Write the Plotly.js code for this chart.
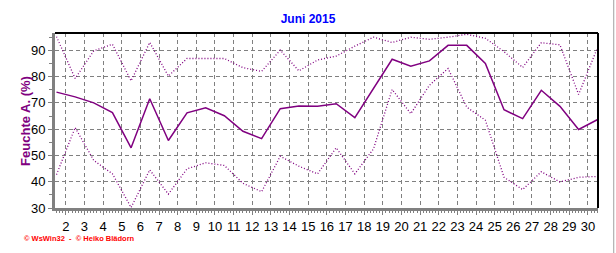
<!DOCTYPE html>
<html>
<head>
<meta charset="utf-8">
<script src="https://cdn.plot.ly/plotly-3.0.1.min.js"></script>
<style>
html,body{margin:0;padding:0;background:#fff;}
#chart{width:616px;height:253px;}
</style>
</head>
<body>
<div id="chart"></div>
<script>
// Days of June 2015
const days = [1,2,3,4,5,6,7,8,9,10,11,12,13,14,15,16,17,18,19,20,21,22,23,24,25,26,27,28,29,30];
// Mean humidity (%)
const meanHum = [74.1,72.3,70.0,66.3,52.9,71.6,55.7,66.2,68.1,65.1,59.2,56.4,67.8,68.8,68.7,69.7,64.4,75.5,86.6,84.0,86.0,91.9,91.9,85.0,67.4,64.0,74.8,68.7,59.9,63.6];
// Max humidity (%)
const maxHum = [95.2,79.3,89.8,92.3,78.4,93.0,80.2,86.9,86.9,86.9,83.4,82.0,90.1,82.2,86.3,87.8,91.6,95.0,93.0,95.0,94.2,95.0,96.1,94.6,89.5,83.5,92.9,92.1,73.2,90.8];
// Min humidity (%)
const minHum = [42.7,60.6,48.1,43.0,30.2,44.5,35.3,44.9,47.2,46.2,39.4,36.2,49.7,45.9,43.0,52.9,43.0,52.5,75.1,65.9,76.7,83.1,68.4,63.4,41.7,37.0,43.8,39.9,41.7,42.0];
const xTicks = [2,3,4,5,6,7,8,9,10,11,12,13,14,15,16,17,18,19,20,21,22,23,24,25,26,27,28,29,30];
const yTicks = [30,40,50,60,70,80,90];

const xs = days.map(d => d + 0.5);
const purple = '#800080';

const traces = [
  {x: xs, y: maxHum, mode: 'lines', line: {color: purple, width: 1.3, dash: '1px,2px'}, hoverinfo: 'skip'},
  {x: xs, y: minHum, mode: 'lines', line: {color: purple, width: 1.3, dash: '1px,2px'}, hoverinfo: 'skip'},
  {x: xs, y: meanHum, mode: 'lines', line: {color: purple, width: 1.5}, hoverinfo: 'skip'}
];

const layout = {
  width: 616, height: 253,
  margin: {l: 55, r: 18, t: 33, b: 45},
  paper_bgcolor: '#ffffff', plot_bgcolor: '#ffffff',
  showlegend: false,
  font: {family: 'Liberation Sans, Arial, sans-serif', size: 13, color: '#000'},
  title: {text: '<b>Juni 2015</b>', x: 0.5, xref: 'container', y: 0.925, yref: 'container', yanchor: 'middle',
          font: {family: 'Liberation Sans, Arial, sans-serif', size: 12, color: '#0000ff'}},
  xaxis: {
    range: [1.42, 30.54], tickvals: xTicks, ticktext: xTicks.map(String),
    showgrid: true, gridcolor: '#808080', gridwidth: 1, griddash: '4px,3px',
    zeroline: false, showline: true, linecolor: '#808080', linewidth: 3,
    ticks: 'outside', ticklen: 4, tickcolor: '#808080', tickwidth: 1,
    minor: {dtick: 1/6, tick0: 0, ticks: 'outside', ticklen: 2, tickcolor: '#808080', showgrid: false},
    tickfont: {size: 13, color: '#000'}, fixedrange: true
  },
  yaxis: {
    range: [30, 96.6], tickvals: yTicks,
    showgrid: true, gridcolor: '#808080', gridwidth: 1, griddash: '4px,3px',
    zeroline: false, showline: true, linecolor: '#808080', linewidth: 3,
    ticks: 'outside', ticklen: 4, tickcolor: '#808080', tickwidth: 1,
    minor: {dtick: 5, tick0: 0, ticks: 'outside', ticklen: 3, tickcolor: '#808080', showgrid: false},
    tickfont: {size: 13, color: '#000'},
    fixedrange: true
  },
  shapes: [
    {type: 'line', xref: 'paper', yref: 'paper', x0: 0, x1: 1, y0: 1, y1: 1, line: {color: '#000', width: 2}},
    {type: 'line', xref: 'paper', yref: 'paper', x0: 1, x1: 1, y0: 0, y1: 1, line: {color: '#000', width: 2}},
    {type: 'line', xref: 'paper', yref: 'paper', x0: 1.029, x1: 1.029, y0: -0.26, y1: 1.19, line: {color: '#a0a0a0', width: 1}},
    {type: 'line', xref: 'paper', yref: 'paper', x0: -0.102, x1: 1.029, y0: -0.26, y1: -0.26, line: {color: '#a0a0a0', width: 1}}
  ],
  annotations: [
    {text: '<b>Feuchte A. (%)</b>', xref: 'paper', yref: 'paper', x: -0.0545, y: 0.5,
     xanchor: 'center', yanchor: 'middle', textangle: -90, showarrow: false,
     font: {family: 'Liberation Sans, Arial, sans-serif', size: 13, color: purple}},
    {text: '<b>© WsWin32  -  © Heiko Blädorn</b>', xref: 'paper', yref: 'paper', x: -0.06, y: -0.175,
     xanchor: 'left', yanchor: 'middle', showarrow: false,
     font: {family: 'Liberation Sans, Arial, sans-serif', size: 7.5, color: '#ff0000'}}
  ]
};

Plotly.newPlot('chart', traces, layout, {staticPlot: true, displayModeBar: false});
</script>
</body>
</html>
